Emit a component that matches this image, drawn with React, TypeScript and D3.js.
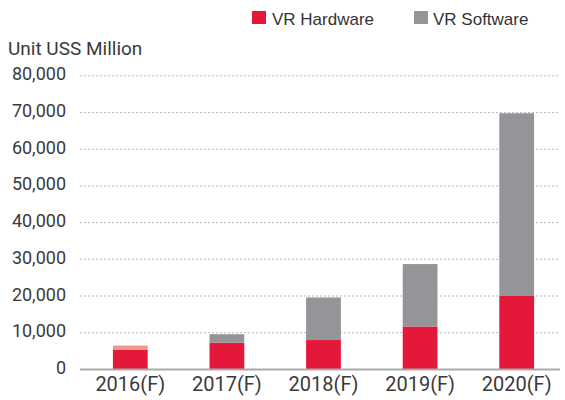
import React from "react";
import * as d3 from "d3";

const categories = ["2016(F)", "2017(F)", "2018(F)", "2019(F)", "2020(F)"];
const hardware = [5400, 7300, 8000, 11700, 20000];
const software = [1100, 2300, 11600, 17000, 49800];
const yTicks = [0, 10000, 20000, 30000, 40000, 50000, 60000, 70000, 80000];
const seriesNames = ["VR Hardware", "VR Software"];

const RED = "#e4193a";
const GRAY = "#939598";
const SALMON = "#f2978c";
const FONT = "Roboto, sans-serif";
const LEGEND_FONT = "'Liberation Sans', Arial, sans-serif";

export default function App() {
  const W = 565, H = 400;
  const x = d3.scaleBand<string>().domain(categories).range([82, 565]).paddingInner(0.64).paddingOuter(0.32);
  const y = d3.scaleLinear().domain([0, 80000]).range([369.4, 75.8]);
  const fmt = d3.format(",");
  const bw = x.bandwidth();
  return (
    <svg width={W} height={H} style={{ position: "absolute", left: 0, top: 0 }}>
      <rect x={0} y={0} width={W} height={H} fill="#fff" />
      {yTicks.slice(1).map((t) => (
        <line key={t} x1={80} x2={560} y1={y(t)} y2={y(t)} stroke="#b8b9bb" strokeWidth={1} strokeDasharray="2,2" />
      ))}
      {yTicks.map((t) => (
        <text key={t} x={66} y={y(t) + 4.5} textAnchor="end" fontFamily={FONT} fontSize={18} fill="#3a3a3a">
          {fmt(t)}
        </text>
      ))}
      <text x={8} y={55} fontFamily={FONT} fontSize={19} fill="#3a3a3a">Unit USS Million</text>
      {categories.map((c, i) => (
        <g key={c}>
          <rect x={x(c)} y={y(hardware[i])} width={bw} height={y(0) - y(hardware[i])} fill={RED} />
          <rect
            x={x(c)}
            y={y(hardware[i] + software[i])}
            width={bw}
            height={y(hardware[i]) - y(hardware[i] + software[i])}
            fill={i === 0 ? SALMON : GRAY}
          />
          <text x={(x(c) as number) + bw / 2} y={391} textAnchor="middle" fontFamily={FONT} fontSize={20} fill="#3a3a3a">
            {c}
          </text>
        </g>
      ))}
      <line x1={80} x2={560} y1={y(0)} y2={y(0)} stroke="#a7a9ac" strokeWidth={2} />
      <rect x={252} y={11} width={14} height={13} fill={RED} />
      <text x={272} y={25} fontFamily={LEGEND_FONT} fontSize={17} fill="#333">{seriesNames[0]}</text>
      <rect x={414} y={11} width={14} height={13} fill={GRAY} />
      <text x={433} y={25} fontFamily={LEGEND_FONT} fontSize={17} fill="#333">{seriesNames[1]}</text>
    </svg>
  );
}
